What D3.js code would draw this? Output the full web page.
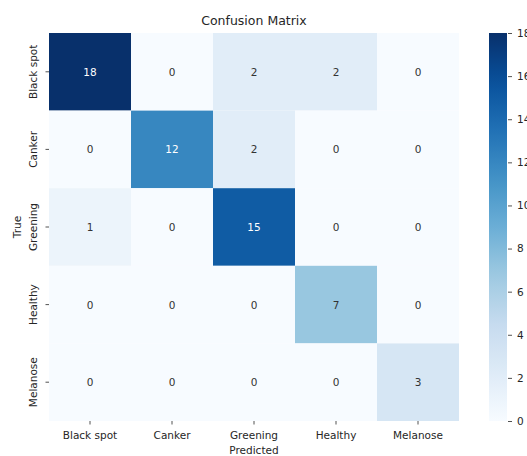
<!DOCTYPE html>
<html>
<head>
<meta charset="utf-8">
<script src="https://cdn.jsdelivr.net/npm/d3@7"></script>
<style>
  html, body { margin: 0; padding: 0; background: #fff; }
  svg text { font-family: "DejaVu Sans", sans-serif; fill: #262626; }
</style>
</head>
<body>
<svg id="chart" width="527" height="456"></svg>
<script>
// Class names (rows = true label, columns = predicted label)
const classes = ["Black spot", "Canker", "Greening", "Healthy", "Melanose"];
// Confusion matrix counts, one array per true class
const rowBlackSpot = [18, 0, 2, 2, 0];
const rowCanker    = [0, 12, 2, 0, 0];
const rowGreening  = [1, 0, 15, 0, 0];
const rowHealthy   = [0, 0, 0, 7, 0];
const rowMelanose  = [0, 0, 0, 0, 3];
const matrix = [rowBlackSpot, rowCanker, rowGreening, rowHealthy, rowMelanose];
// Colour bar ticks
const colorbarTicks = [0, 2, 4, 6, 8, 10, 12, 14, 16, 18];
const vmin = 0, vmax = 18;

// Blues colour map (linear segments through the ColorBrewer stops)
const bluesStops = ["#f7fbff","#deebf7","#c6dbef","#9ecae1","#6baed6","#4292c6","#2171b5","#08519c","#08306b"];
const color = d3.scaleLinear()
  .domain(bluesStops.map((_, i) => vmin + (vmax - vmin) * i / (bluesStops.length - 1)))
  .range(bluesStops)
  .interpolate(d3.interpolateRgb)
  .clamp(true);

const svg = d3.select("#chart");
const plot = { left: 49, top: 33, width: 410, height: 388 };

const x = d3.scaleBand().domain(classes).range([plot.left, plot.left + plot.width]);
const y = d3.scaleBand().domain(classes).range([plot.top, plot.top + plot.height]);

const cells = [];
matrix.forEach((row, i) => row.forEach((v, j) => cells.push({ t: classes[i], p: classes[j], v })));

// Heatmap cells
svg.append("g").selectAll("rect").data(cells).join("rect")
  .attr("x", d => x(d.p))
  .attr("y", d => y(d.t))
  .attr("width", x.bandwidth())
  .attr("height", y.bandwidth())
  .attr("fill", d => color(d.v));

// Cell annotations: light text on dark cells
function lum(c) {
  const rgb = d3.rgb(c);
  const f = u => { u /= 255; return u <= 0.03928 ? u / 12.92 : Math.pow((u + 0.055) / 1.055, 2.4); };
  return 0.2126 * f(rgb.r) + 0.7152 * f(rgb.g) + 0.0722 * f(rgb.b);
}
svg.append("g").selectAll("text").data(cells).join("text")
  .attr("x", d => x(d.p) + x.bandwidth() / 2)
  .attr("y", d => y(d.t) + y.bandwidth() / 2)
  .attr("text-anchor", "middle")
  .attr("dominant-baseline", "central")
  .style("font-size", "10.5px")
  .style("fill", d => lum(color(d.v)) > 0.408 ? "#333333" : "#ffffff")
  .text(d => d.v);

// X axis
const xAxis = svg.append("g")
  .attr("transform", `translate(0,${plot.top + plot.height})`)
  .call(d3.axisBottom(x).tickSize(3.5).tickPadding(7));
xAxis.select(".domain").remove();
xAxis.selectAll(".tick line").attr("stroke", "#262626").attr("stroke-width", 0.8);
xAxis.selectAll(".tick text").style("font-size", "10.5px").style("font-family", "DejaVu Sans, sans-serif").attr("fill", "#262626");

// Y axis with rotated labels
const yAxis = svg.append("g")
  .attr("transform", `translate(${plot.left},0)`)
  .call(d3.axisLeft(y).tickSize(3.5).tickPadding(4));
yAxis.select(".domain").remove();
yAxis.selectAll(".tick line").attr("stroke", "#262626").attr("stroke-width", 0.8);
yAxis.selectAll(".tick text")
  .style("font-size", "10.5px").style("font-family", "DejaVu Sans, sans-serif").attr("fill", "#262626")
  .attr("x", null).attr("dy", null)
  .attr("text-anchor", "middle")
  .attr("transform", "translate(-12,0) rotate(-90)");

// Titles
svg.append("text")
  .attr("x", plot.left + plot.width / 2)
  .attr("y", 25)
  .attr("text-anchor", "middle")
  .style("font-size", "12.5px")
  .text("Confusion Matrix");

svg.append("text")
  .attr("x", plot.left + plot.width / 2)
  .attr("y", 454)
  .attr("text-anchor", "middle")
  .style("font-size", "10.5px")
  .text("Predicted");

svg.append("text")
  .attr("transform", `translate(21,${plot.top + plot.height / 2}) rotate(-90)`)
  .attr("text-anchor", "middle")
  .style("font-size", "10.5px")
  .text("True");

// Colour bar
const cb = { left: 489, width: 18 };
const cbScale = d3.scaleLinear().domain([vmin, vmax]).range([plot.top + plot.height, plot.top]);
const defs = svg.append("defs");
const grad = defs.append("linearGradient").attr("id", "bluesGrad")
  .attr("x1", 0).attr("y1", 1).attr("x2", 0).attr("y2", 0);
d3.range(0, 1.0001, 0.05).forEach(t => {
  grad.append("stop").attr("offset", t).attr("stop-color", color(vmin + t * (vmax - vmin)));
});
svg.append("rect")
  .attr("x", cb.left).attr("y", plot.top)
  .attr("width", cb.width).attr("height", plot.height)
  .attr("fill", "url(#bluesGrad)");

const cbAxis = svg.append("g")
  .attr("transform", `translate(${cb.left + cb.width + 1},0)`)
  .call(d3.axisRight(cbScale).tickValues(colorbarTicks).tickSize(4).tickPadding(5));
cbAxis.select(".domain").remove();
cbAxis.selectAll(".tick line").attr("stroke", "#262626").attr("stroke-width", 0.8);
cbAxis.selectAll(".tick text").style("font-size", "10.5px").style("font-family", "DejaVu Sans, sans-serif").attr("fill", "#262626");
</script>
</body>
</html>
